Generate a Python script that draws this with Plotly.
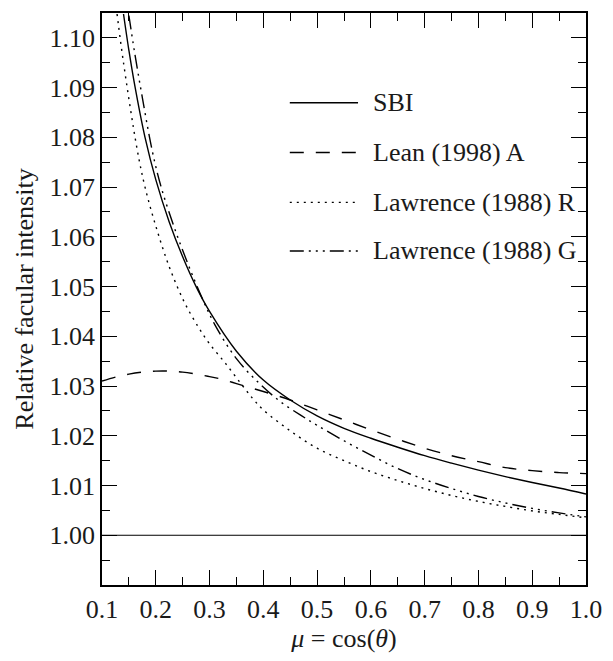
import plotly.graph_objects as go

# ---- data ----
mu_sbi = [0.14, 0.15, 0.16, 0.18, 0.20, 0.225, 0.25, 0.275, 0.30, 0.35, 0.40, 0.45,
          0.50, 0.55, 0.60, 0.65, 0.70, 0.75, 0.80, 0.85, 0.90, 0.95, 1.00]
sbi = [1.1048, 1.0975, 1.0910, 1.0800, 1.0715, 1.0630, 1.0560, 1.0500, 1.0450, 1.0370,
       1.0312, 1.0272, 1.0240, 1.0215, 1.0195, 1.0177, 1.0160, 1.0145, 1.0131, 1.0118,
       1.0106, 1.0095, 1.0083]

mu_lean = [0.10, 0.125, 0.15, 0.175, 0.20, 0.225, 0.25, 0.275, 0.30, 0.325, 0.35, 0.375,
           0.40, 0.45, 0.50, 0.55, 0.60, 0.65, 0.70, 0.75, 0.80, 0.85, 0.90, 0.95, 1.00]
lean = [1.0310, 1.0318, 1.0324, 1.0328, 1.0330, 1.0330, 1.0328, 1.0324, 1.0319, 1.0313,
        1.0305, 1.0297, 1.0289, 1.0272, 1.0252, 1.0232, 1.0212, 1.0193, 1.0175, 1.0160,
        1.0148, 1.0136, 1.0130, 1.0126, 1.0124]

mu_lr = [0.128, 0.14, 0.1655, 0.18, 0.2005, 0.225, 0.2525, 0.28, 0.30, 0.33, 0.359, 0.381,
         0.40, 0.45, 0.50, 0.55, 0.60, 0.65, 0.70, 0.75, 0.80, 0.85, 0.90, 0.95, 1.00]
law_r = [1.1048, 1.0950, 1.0775, 1.0700, 1.0620, 1.0540, 1.0470, 1.0417, 1.0385, 1.0345,
         1.0304, 1.0274, 1.0252, 1.0210, 1.0175, 1.0150, 1.0128, 1.0110, 1.0094, 1.0080,
         1.0068, 1.0058, 1.0049, 1.0042, 1.0035]

mu_lg = [0.15, 0.16, 0.175, 0.194, 0.21, 0.234, 0.26, 0.287, 0.31, 0.35, 0.39, 0.43,
         0.47, 0.50, 0.55, 0.60, 0.65, 0.70, 0.75, 0.80, 0.85, 0.90, 0.95, 1.00]
law_g = [1.1045, 1.0975, 1.0880, 1.0770, 1.0700, 1.0620, 1.0545, 1.0475, 1.0423, 1.0355,
         1.0308, 1.0270, 1.0241, 1.0221, 1.0190, 1.0161, 1.0134, 1.0112, 1.0094, 1.0078,
         1.0065, 1.0054, 1.0045, 1.0037]

names = ["SBI", "Lean (1998) A", "Lawrence (1988) R", "Lawrence (1988) G"]
x_ticks = [0.1, 0.2, 0.3, 0.4, 0.5, 0.6, 0.7, 0.8, 0.9, 1.0]
y_ticks = [1.00, 1.01, 1.02, 1.03, 1.04, 1.05, 1.06, 1.07, 1.08, 1.09, 1.10]

# ---- styles ----
FONT = "Liberation Serif, DejaVu Serif, serif"
TXT = "#1a1a1a"
dashes = ["solid", "14px,12px", "2px,5px", "14px,5px,2px,5px,2px,5px,2px,5px"]
series = [(mu_sbi, sbi), (mu_lean, lean), (mu_lr, law_r), (mu_lg, law_g)]

fig = go.Figure()
for (x, y), nm, ds in zip(series, names, dashes):
    fig.add_trace(go.Scatter(x=x, y=y, mode="lines", name=nm, showlegend=False,
                             line=dict(color="black", width=1.4, dash=ds, shape="spline")))

shapes = [dict(type="line", xref="paper", yref="y", x0=0, x1=1, y0=1.0, y1=1.0,
               line=dict(color="black", width=1))]
annotations = []
leg_y = [0.843, 0.756, 0.669, 0.584]
for nm, ds, yy in zip(names, dashes, leg_y):
    shapes.append(dict(type="line", xref="paper", yref="paper", x0=0.388, x1=0.529,
                       y0=yy, y1=yy, line=dict(color="black", width=1.4, dash=ds)))
    annotations.append(dict(xref="paper", yref="paper", x=0.555, y=yy, text=nm,
                            xanchor="left", yanchor="middle", showarrow=False,
                            font=dict(family=FONT, size=26, color=TXT)))

axis_common = dict(showgrid=False, zeroline=False, showline=True, linecolor="black",
                   linewidth=1.5, ticks="inside", ticklen=15, tickwidth=1, tickcolor="black",
                   mirror="allticks", tickfont=dict(family=FONT, size=26, color=TXT))

fig.update_layout(
    width=613, height=661,
    margin=dict(l=102, r=21, t=11, b=76),
    paper_bgcolor="white", plot_bgcolor="white",
    font=dict(family=FONT, color=TXT),
    shapes=shapes, annotations=annotations,
    xaxis=dict(range=[0.1, 1.0], tickvals=x_ticks, ticktext=[f"{v:.1f}" for v in x_ticks],
               minor=dict(tickmode="linear", tick0=0.1, dtick=0.05, ticks="inside", ticklen=8,
                          tickcolor="black"),
               title=dict(text="<i>μ</i> = cos(<i>θ</i>)", font=dict(family=FONT, size=26, color=TXT),
                          standoff=2),
               **axis_common),
    yaxis=dict(range=[0.99, 1.105], tickvals=y_ticks, ticktext=[f"{v:.2f}" for v in y_ticks],
               minor=dict(tickmode="linear", tick0=0.99, dtick=0.005, ticks="inside", ticklen=8,
                          tickcolor="black"),
               title=dict(text="Relative facular intensity", font=dict(family=FONT, size=26, color=TXT),
                          standoff=8),
               **axis_common),
)

fig.write_html("out.html")
